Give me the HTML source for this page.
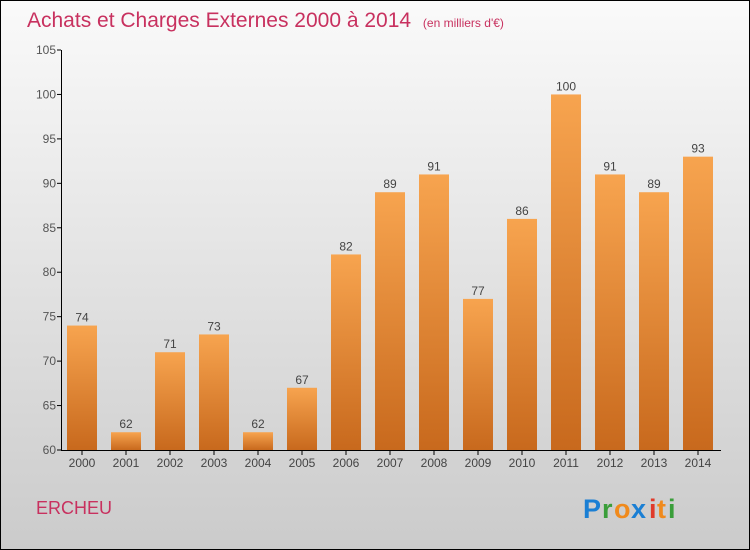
<!DOCTYPE html>
<html><head><meta charset="utf-8"><style>
body{margin:0}
#c{width:748px;height:548px;border:1px solid #000;background:linear-gradient(#fafafa,#cbcbcb);position:relative;font-family:"Liberation Sans",sans-serif;overflow:hidden}
</style></head><body>
<div id="c">
<svg width="748" height="548" style="position:absolute;left:0;top:0" id="svg">
<defs><linearGradient id="bg" x1="0" y1="0" x2="0" y2="1"><stop offset="0" stop-color="#f7a44f"/><stop offset="1" stop-color="#c8691d"/></linearGradient></defs>
<text x="26" y="26" font-size="21" fill="#c8315f">Achats et Charges Externes 2000 à 2014 <tspan font-size="12" dx="6">(en milliers d'€)</tspan></text>
<text x="35" y="513" font-size="18" fill="#c8315f">ERCHEU</text>
<g font-size="27" font-weight="bold">
<text x="582" y="517" fill="#1a7fd4">P</text><text x="601" y="517" fill="#3a9e3a">r</text><text x="613" y="517" fill="#f08a1c">o</text><text x="630" y="517" fill="#1a7fd4">x</text><text x="648" y="517" fill="#e03a2a">i</text><text x="656" y="517" fill="#f08a1c">t</text><text x="667" y="517" fill="#3a9e3a">i</text></g>
<g id="plot"></g>
</svg>
</div>
<script>
const years=["2000","2001","2002","2003","2004","2005","2006","2007","2008","2009","2010","2011","2012","2013","2014"];
const values=[74,62,71,73,62,67,82,89,91,77,86,100,91,89,93];
const yTicks=[60,65,70,75,80,85,90,95,100,105];
const NS="http://www.w3.org/2000/svg";
const g=document.getElementById('plot');
const y=v=>449-(v-60)*400/45;
const x=i=>81+i*44;
function mk(t,a,txt){const e=document.createElementNS(NS,t);for(const k in a)e.setAttribute(k,a[k]);if(txt!=null)e.textContent=txt;g.appendChild(e);return e;}
yTicks.forEach(t=>{
 const tk=mk('line',{x1:56,x2:60,y1:y(t),y2:y(t),stroke:'#000'});
 
 
 const l=mk('text',{x:55,y:y(t)+4,'text-anchor':'end','font-size':12,fill:'#555'},t);
 
 
});
values.forEach((v,i)=>{
 const b=mk('rect',{x:x(i)-15,y:y(v),width:30,height:y(60)-y(v),fill:'url(#bg)'});
 
 
 const vl=mk('text',{x:x(i),y:y(v)-4,'text-anchor':'middle','font-size':12,fill:'#444'},v);
 
 
 const tk=mk('line',{x1:x(i),x2:x(i),y1:449,y2:454,stroke:'#000'});
 
 
 const xl=mk('text',{x:x(i),y:466,'text-anchor':'middle','font-size':12,fill:'#444'},years[i]);
 
 
});
const ya=mk('line',{x1:60.5,x2:60.5,y1:y(105),y2:449.5,stroke:'#000'});


const xa=mk('line',{x1:60,x2:720,y1:449.5,y2:449.5,stroke:'#000'});


</script>
</body></html>
